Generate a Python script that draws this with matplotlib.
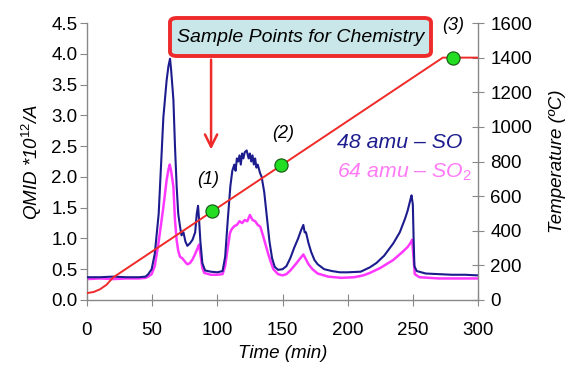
import numpy as np
import matplotlib
matplotlib.use("Agg")
import matplotlib.pyplot as plt
from matplotlib.patches import FancyBboxPatch

plt.rcParams['font.family'] = ['Liberation Sans', 'DejaVu Sans']
plt.rcParams['mathtext.fontset'] = 'custom'
plt.rcParams['mathtext.it'] = 'Liberation Sans:italic'
plt.rcParams['mathtext.rm'] = 'Liberation Sans'

# ---- data ----
time_so = [0, 10, 20, 30, 40, 45, 47, 49.6, 52, 55, 58.6, 61.1, 62.5, 63.7, 64.5, 66.3, 67.5, 68.8, 70,
           71.4, 72.5, 74, 75.5, 77, 79, 81, 83, 84.2, 85.2, 86, 87, 88.5, 90.6, 95, 100, 104, 106, 108,
           110, 111.5, 113, 114, 115, 116, 117, 118, 119, 120, 121, 122.5, 124, 125, 126, 127, 128, 129,
           130, 131, 132.8, 134, 136, 138, 140, 142, 144, 146.6, 150, 153, 156, 159, 162, 164, 166, 167,
           168, 170, 172, 174.5, 177, 182, 188, 194, 200, 210, 217, 222, 228, 235, 240, 244, 246, 248,
           249, 250, 250.6, 251.2, 253, 260, 270, 280, 290, 300]
so_48amu = [0.37, 0.37, 0.38, 0.37, 0.37, 0.38, 0.42, 0.50, 0.75, 1.40, 2.97, 3.57, 3.80, 3.92, 3.75, 3.25,
            2.50, 1.84, 1.40, 1.19, 1.05, 1.10, 0.95, 0.88, 0.92, 0.98, 1.10, 1.40, 1.53, 1.30, 0.95, 0.60,
            0.48, 0.46, 0.45, 0.47, 0.70, 1.30, 1.85, 2.10, 2.20, 2.10, 2.30, 2.25, 2.35, 2.20, 2.38, 2.30,
            2.40, 2.43, 2.30, 2.38, 2.25, 2.35, 2.20, 2.30, 2.15, 2.20, 2.06, 2.00, 1.75, 1.35, 0.95, 0.68,
            0.54, 0.49, 0.50, 0.55, 0.68, 0.85, 1.00, 1.12, 1.22, 1.10, 1.10, 0.92, 0.78, 0.65, 0.58, 0.50,
            0.47, 0.45, 0.45, 0.46, 0.53, 0.60, 0.72, 0.92, 1.10, 1.32, 1.45, 1.62, 1.70, 1.55, 1.00, 0.55,
            0.47, 0.43, 0.42, 0.41, 0.41, 0.40]

time_so2 = [0, 10, 20, 30, 40, 45, 47, 49.6, 52, 55, 58.6, 61.1, 62.5, 63.5, 64.5, 66.3, 67.5, 68.8, 70,
            71.4, 73, 75.3, 77, 79, 81, 83, 85, 86, 87, 88.5, 90, 95, 100, 104, 106, 108, 109.7, 111, 113,
            115, 117, 119, 121, 123, 125, 127, 129, 131, 133, 135, 137, 139, 141, 143, 146.6, 150, 153, 156,
            160, 163, 166, 168, 170, 173, 177, 185, 195, 205, 212, 217, 225, 235, 242, 246, 248, 249.5,
            250.5, 251.5, 255, 270, 285, 300]
so2_64amu = [0.34, 0.35, 0.34, 0.35, 0.35, 0.36, 0.38, 0.42, 0.55, 0.95, 1.51, 1.95, 2.12, 2.20, 2.10, 1.84,
             1.30, 0.97, 0.80, 0.70, 0.68, 0.62, 0.58, 0.60, 0.66, 0.75, 0.85, 0.90, 0.75, 0.52, 0.44, 0.41,
             0.41, 0.42, 0.55, 0.85, 1.09, 1.15, 1.20, 1.22, 1.28, 1.25, 1.30, 1.28, 1.38, 1.30, 1.28, 1.22,
             1.19, 1.05, 0.90, 0.75, 0.62, 0.50, 0.42, 0.40, 0.42, 0.48, 0.58, 0.66, 0.74, 0.66, 0.58, 0.50,
             0.43, 0.38, 0.36, 0.37, 0.40, 0.44, 0.52, 0.65, 0.78, 0.86, 0.92, 0.98, 0.70, 0.42, 0.37, 0.35,
             0.35, 0.35]

temp_time = [0, 5, 10, 15, 20, 273, 300]
temperature = [40, 46, 62, 88, 130, 1400, 1400]

sample_times = [96, 149, 281]
sample_labels = ["(1)", "(2)", "(3)"]

x_ticks = [0, 50, 100, 150, 200, 250, 300]
left_ticks = [0.0, 0.5, 1.0, 1.5, 2.0, 2.5, 3.0, 3.5, 4.0, 4.5]
right_ticks = [0, 200, 400, 600, 800, 1000, 1200, 1400, 1600]

# ---- figure ----
W, H = 569, 365
fig = plt.figure(figsize=(W / 100, H / 100), dpi=100)
ax = fig.add_axes([87 / W, 65 / H, 391 / W, 277 / H])
ax2 = ax.twinx()

blue = '#1c1c8e'
magenta = '#ff38ff'
red = '#ee2a2a'
spine_c = '#888888'

ax.plot(time_so2, so2_64amu, color=magenta, lw=1.8, zorder=2)
ax.plot(time_so, so_48amu, color=blue, lw=1.5, zorder=3)

ax2.plot(temp_time, temperature, color=red, lw=1.4, zorder=3)
sample_temps = np.interp(sample_times, temp_time, temperature)
ax2.plot(sample_times, sample_temps, 'o', ms=9.5, mfc='#22dd22', mec='#115511', mew=0.8, zorder=4, clip_on=False)

ax.set_xlim(0, 300)
ax.set_ylim(0, 4.5)
ax2.set_ylim(0, 1600)

ax.set_xticks(x_ticks)
ax.set_yticks(left_ticks)
ax.set_yticklabels([f"{v:.1f}" for v in left_ticks])
ax2.set_yticks(right_ticks)

for a in (ax, ax2):
    a.spines['top'].set_visible(False)
    for s in ('left', 'right', 'bottom'):
        a.spines[s].set_color(spine_c)
        a.spines[s].set_linewidth(1.0)
ax.spines['right'].set_visible(False)
ax2.spines['left'].set_visible(False)
ax2.spines['bottom'].set_visible(False)

ax.tick_params(axis='y', direction='out', length=5, color=spine_c, labelsize=13.5, pad=2)
ax.tick_params(axis='x', direction='inout', length=8, color=spine_c, labelsize=13.5, pad=12)
ax2.tick_params(axis='y', direction='inout', length=8, color=spine_c, labelsize=13.5, pad=5)

ax.set_xlabel("Time (min)", fontsize=13.5, style='italic', labelpad=4)
ax.set_ylabel(r"QMID *10$^{\mathit{12}}$/A", fontsize=13.5, style='italic', labelpad=5)
ax2.set_ylabel("Temperature (ºC)", fontsize=13.5, style='italic', labelpad=12)

# sample point labels
label_pos = [(93, 1.95), (150.4, 2.71), (281, 4.46)]
for (lx, ly), lab in zip(label_pos, sample_labels):
    ax.text(lx, ly, lab, fontsize=13, style='italic', ha='center', va='center', clip_on=False)

# legend texts
ax.text(192, 2.56, "48 amu – SO", color=blue, fontsize=15.3, style='italic', va='center', ha='left')
ax.text(192, 2.08, r"64 amu – SO$_2$", color='#ff7af5', fontsize=15.3, style='italic', va='center', ha='left')

# annotation box and arrow
ax.annotate('', xy=(95.2, 2.40), xytext=(95.2, 3.95),
            arrowprops=dict(arrowstyle='->', color=red, lw=1.8, mutation_scale=22))
box = FancyBboxPatch((170 / W, 1 - 56 / H), 261 / W, 38 / H, transform=fig.transFigure,
                     boxstyle='round,pad=0,rounding_size=0.012', fc='#c9e6e8', ec=red, lw=2.8, zorder=9)
fig.patches.append(box)
fig.text(301 / W, 1 - 37 / H, "Sample Points for Chemistry", fontsize=14, style='italic',
         ha='center', va='center', zorder=10)

fig.savefig("out.png", dpi=100)
